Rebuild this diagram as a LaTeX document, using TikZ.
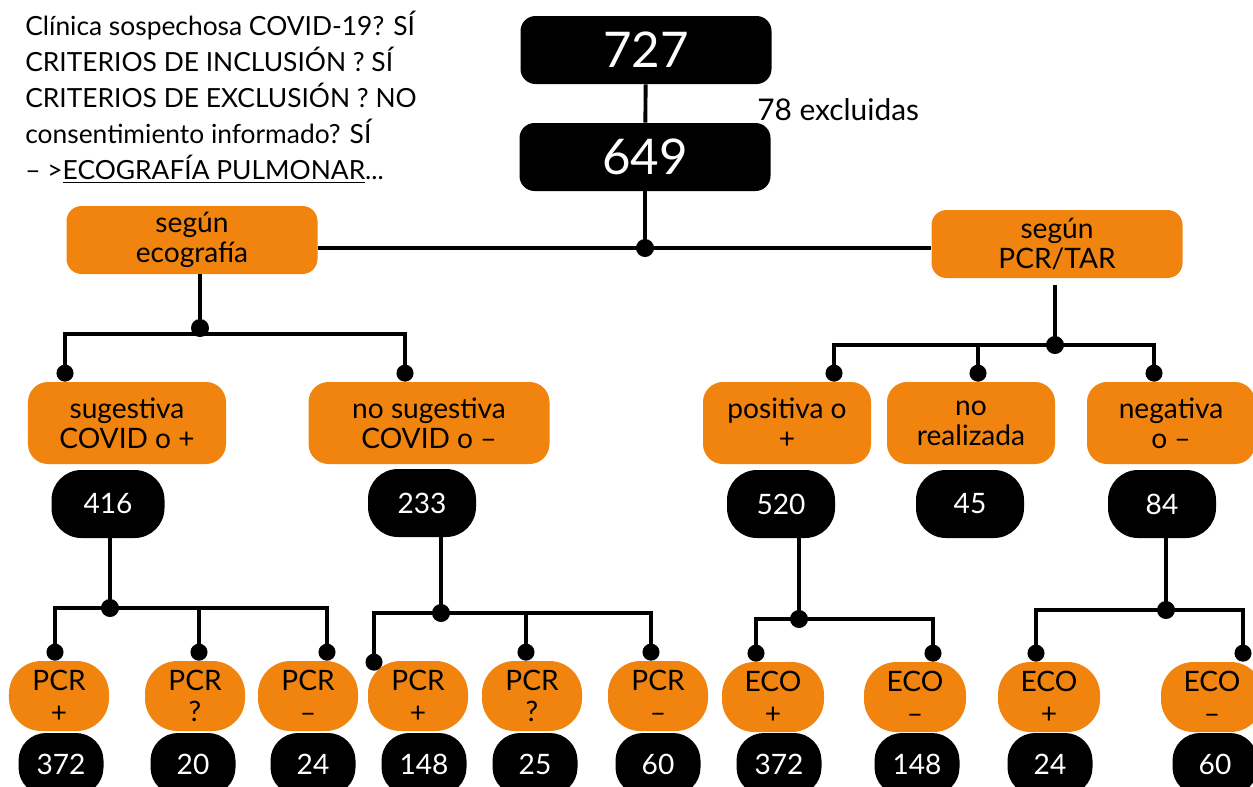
\documentclass[tikz,border=0pt]{standalone}
\usepackage{fontspec}
\setmainfont{Lato}
\usepackage{tikz}
\usetikzlibrary{arrows.meta,positioning,calc}
\usepackage{xcolor}
\definecolor{ecoorange}{RGB}{240,132,14}

\tikzset{
  totalbox/.style={fill=black, text=white, rounded corners=0.3cm, minimum width=5.02cm, minimum height=1.36cm, font=\fontsize{28}{30}\selectfont},
  groupbox/.style={fill=ecoorange, rounded corners=0.3cm, align=center, minimum height=1.36cm, minimum width=5.02cm, font=\fontsize{16}{17}\selectfont},
  resultbox/.style={fill=ecoorange, rounded corners=0.4cm, align=center, minimum height=1.64cm, font=\fontsize{16}{17}\selectfont},
  countbox/.style={fill=black, text=white, rounded corners=0.6cm, minimum width=2.16cm, minimum height=1.36cm, font=\fontsize{16}{17}\selectfont},
  testbox/.style={fill=ecoorange, rounded corners=0.65cm, align=center, minimum width=2.0cm, minimum height=1.40cm, font=\fontsize{16}{18}\selectfont},
  smallcount/.style={fill=black, text=white, rounded corners=0.55cm, minimum width=1.70cm, minimum height=1.24cm, font=\fontsize{16}{17}\selectfont},
  link/.style={line width=2.2pt},
  dotlink/.style={link, -{Circle[length=0.34cm, width=0.34cm]}},
  hub/.style={circle, fill=black, inner sep=0pt, minimum size=0.36cm}
}

\begin{document}
\begin{tikzpicture}
\useasboundingbox (0,0) rectangle (25.06,-15.72);

% Inclusion criteria
\node[anchor=north west, align=left, inner sep=0pt, font=\fontsize{15}{20.5}\selectfont] (criterios) at (0.50,-0.22) {Clínica sospechosa COVID-19? SÍ\\CRITERIOS DE INCLUSIÓN ? SÍ\\CRITERIOS DE EXCLUSIÓN ? NO\\consentimiento informado? SÍ\\– >\underline{ECOGRAFÍA PULMONAR}...};

% Totals
\node[totalbox] (n727) at (12.92,-1.00) {727};
\node[totalbox] (n649) at (12.90,-3.14) {649};
\draw[link] (n727) -- (n649) node[midway, right=2.08cm, yshift=-0.12cm, font=\fontsize{17}{18}\selectfont] (excl) {78 excluidas};

% Classification
\node[groupbox] (eco) at (3.84,-4.80) {según\\ecografía};
\node[groupbox] (tar) at (21.14,-4.88) {según\\PCR/TAR};
\coordinate (jMain) at (12.90,-4.96);
\draw[link] (n649) -- (jMain);
\draw[link] (eco.east |- jMain) -- (tar.west |- jMain);
\node[hub] (hMain) at (jMain) {};

% Ultrasound branch
\node[resultbox, minimum width=3.96cm] (sug) at (2.54,-8.46) {sugestiva\\COVID o +};
\node[resultbox, minimum width=4.82cm] (nosug) at (8.58,-8.46) {no sugestiva\\COVID o –};
\coordinate (jEco) at (4.00,-6.68);
\draw[link] (eco.south -| jEco) -- (jEco);
\draw[dotlink] (jEco) -| ([xshift=-1.24cm]sug.north);
\draw[dotlink] (jEco) -| ([xshift=-0.48cm]nosug.north);
\node[hub] (hEco) at (4.00,-6.56) {};

% PCR/TAR branch
\node[resultbox, minimum width=3.36cm] (pos) at (15.74,-8.46) {positiva o\\+};
\node[resultbox, minimum width=3.36cm] (nore) at (19.42,-8.46) {no\\realizada};
\node[resultbox, minimum width=3.36cm] (neg) at (23.42,-8.46) {negativa\\o –};
\coordinate (jTar) at (21.10,-6.90);
\draw[link] ([yshift=-0.14cm]tar.south -| jTar) -- (jTar);
\draw[dotlink] (jTar) -| ([xshift=0.94cm]pos.north);
\draw[dotlink] (jTar) -| ([xshift=0.14cm]nore.north);
\draw[dotlink] (jTar) -| ([xshift=-0.34cm]neg.north);
\node[hub] (hTar) at (jTar) {};

% Counts
\node[countbox, minimum width=2.26cm] (n416) at (2.16,-10.08) {416};
\node[countbox] (n233) at (8.44,-10.06) {233};
\node[countbox] (n520) at (15.62,-10.08) {520};
\node[countbox] (n45) at (19.40,-10.08) {45};
\node[countbox] (n84) at (23.24,-10.08) {84};

% PCR after ultrasound +
\node[testbox] (pcrA) at (1.18,-13.92) {PCR\\+};
\node[testbox] (pcrB) at (3.90,-13.92) {PCR\\?};
\node[testbox] (pcrC) at (6.16,-13.92) {PCR\\–};
\coordinate (j416) at (2.20,-12.16);
\draw[link] (n416.south -| j416) -- (j416);
\draw[dotlink] (j416) -| ([xshift=-0.08cm]pcrA.north);
\draw[dotlink] (j416) -| ([xshift=0.08cm]pcrB.north);
\draw[dotlink] (j416) -| ([xshift=0.38cm]pcrC.north);
\node[hub] at (j416) {};

% PCR after ultrasound -
\node[testbox] (pcrD) at (8.36,-13.92) {PCR\\+};
\node[testbox] (pcrE) at (10.64,-13.92) {PCR\\?};
\node[testbox] (pcrF) at (13.16,-13.92) {PCR\\–};
\coordinate (j233) at (8.82,-12.26);
\draw[link] (n233.south -| j233) -- (j233);
\draw[dotlink] (j233) -| ([xshift=-0.88cm, yshift=-0.2cm]pcrD.north);
\draw[dotlink] (j233) -| ([xshift=-0.12cm]pcrE.north);
\draw[dotlink] (j233) -| ([xshift=-0.14cm]pcrF.north);
\node[hub] at (j233) {};

% Ultrasound after PCR +
\node[testbox, minimum width=2.04cm] (ecoA) at (15.46,-13.94) {ECO\\+};
\node[testbox, minimum width=2.04cm] (ecoB) at (18.30,-13.94) {ECO\\–};
\coordinate (j520) at (15.98,-12.38);
\draw[link] (n520.south -| j520) -- (j520);
\draw[dotlink] (j520) -| ([xshift=-0.34cm]ecoA.north);
\draw[dotlink] (j520) -| ([xshift=0.36cm]ecoB.north);
\node[hub] at (j520) {};

% Ultrasound after PCR -
\node[testbox, minimum width=2.04cm] (ecoC) at (20.98,-13.94) {ECO\\+};
\node[testbox, minimum width=2.04cm] (ecoD) at (24.24,-13.94) {ECO\\–};
\coordinate (j84) at (23.32,-12.20);
\draw[link] (n84.south -| j84) -- (j84);
\draw[dotlink] (j84) -| ([xshift=-0.26cm]ecoC.north);
\draw[dotlink] (j84) -| ([xshift=0.62cm]ecoD.north);
\node[hub] at (j84) {};

% Final counts
\node[smallcount] (c372a) at (1.22,-15.28) {372};
\node[smallcount] (c20) at (3.86,-15.28) {20};
\node[smallcount] (c24a) at (6.26,-15.28) {24};
\node[smallcount] (c148a) at (8.48,-15.28) {148};
\node[smallcount] (c25) at (10.70,-15.28) {25};
\node[smallcount] (c60a) at (13.16,-15.28) {60};
\node[smallcount] (c372b) at (15.58,-15.28) {372};
\node[smallcount] (c148b) at (18.34,-15.28) {148};
\node[smallcount] (c24b) at (21.00,-15.28) {24};
\node[smallcount] (c60b) at (24.30,-15.28) {60};
\end{tikzpicture}
\end{document}
